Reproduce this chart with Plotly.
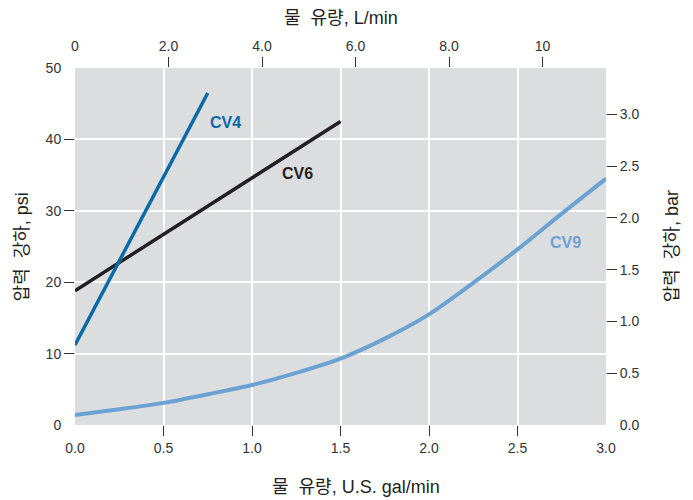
import plotly.graph_objects as go

# ---- data (gal/min vs psi) ----
cv4_x = [0.0, 0.75]
cv4_y = [11.2, 46.5]

cv6_x = [0.0, 1.5]
cv6_y = [18.8, 42.5]

cv9_x = [0.0, 0.25, 0.5, 0.75, 1.0, 1.25, 1.5, 1.75, 2.0, 2.25, 2.5, 2.75, 3.0]
cv9_y = [1.4, 2.2, 3.1, 4.3, 5.6, 7.3, 9.3, 12.1, 15.5, 19.9, 24.6, 29.6, 34.5]

bottom_ticks = [0.0, 0.5, 1.0, 1.5, 2.0, 2.5, 3.0]
bottom_labels = ["0.0", "0.5", "1.0", "1.5", "2.0", "2.5", "3.0"]
left_ticks = [0, 10, 20, 30, 40, 50]
left_labels = ["0", "10", "20", "30", "40", "50"]
top_ticks = [0, 2, 4, 6, 8, 10]
top_labels = ["0", "2.0", "4.0", "6.0", "8.0", "10"]
right_ticks = [0.0, 0.5, 1.0, 1.5, 2.0, 2.5, 3.0]
right_labels = ["0.0", "0.5", "1.0", "1.5", "2.0", "2.5", "3.0"]

GAL_TO_L = 3.78541
PSI_PER_BAR = 14.5038
X_MAX = 3.0
Y_MAX = 50.0

FONT = "Liberation Sans, Arial, Noto Sans CJK KR, sans-serif"
TXT = "#231f20"
C_CV4 = "#0a6aa8"
C_CV6 = "#231f20"
C_CV9 = "#6aa3d3"

fig = go.Figure()
fig.add_trace(go.Scatter(x=cv9_x, y=cv9_y, mode="lines", line=dict(color=C_CV9, width=4, shape="spline", smoothing=0.8), hoverinfo="skip"))
fig.add_trace(go.Scatter(x=cv6_x, y=cv6_y, mode="lines", line=dict(color=C_CV6, width=3.5), hoverinfo="skip"))
fig.add_trace(go.Scatter(x=cv4_x, y=cv4_y, mode="lines", line=dict(color=C_CV4, width=3.5), hoverinfo="skip"))

# dummy traces to bind auxiliary axes
for xa, ya in [("x2", "y2"), ("x3", "y3"), ("x4", "y4")]:
    fig.add_trace(go.Scatter(x=[None], y=[None], xaxis=xa, yaxis=ya, showlegend=False, hoverinfo="skip"))

tickfont = dict(family=FONT, size=14, color="#333333")
lbl_common = dict(showline=False, zeroline=False, showgrid=False, ticks="outside", ticklen=10,
                  tickcolor="rgba(0,0,0,0)", tickfont=tickfont, fixedrange=True)
mark_common = dict(showline=False, zeroline=False, showticklabels=False, ticks="outside", ticklen=10,
                   tickwidth=1.3, tickcolor="#333333", fixedrange=True)

fig.update_layout(
    width=693, height=500,
    margin=dict(l=75, r=87, t=68, b=75),
    paper_bgcolor="white", plot_bgcolor="#dcdddf",
    showlegend=False,
    font=dict(family=FONT, color=TXT),
    xaxis=dict(range=[0, X_MAX], tickvals=bottom_ticks, ticktext=bottom_labels, side="bottom", **lbl_common),
    yaxis=dict(range=[0, Y_MAX], tickvals=left_ticks, ticktext=left_labels, side="left", **lbl_common),
    xaxis2=dict(range=[0, X_MAX * GAL_TO_L], tickvals=top_ticks, ticktext=top_labels, side="top",
                overlaying="x", anchor="y", **lbl_common),
    yaxis2=dict(range=[0, Y_MAX / PSI_PER_BAR], tickvals=right_ticks, ticktext=right_labels, side="right",
                overlaying="y", anchor="x", **lbl_common),
    xaxis3=dict(range=[0, X_MAX], tickvals=bottom_ticks[1:-1], side="bottom", overlaying="x", anchor="y",
                showgrid=True, gridcolor="white", gridwidth=2, **mark_common),
    yaxis3=dict(range=[0, Y_MAX], tickvals=left_ticks[1:-1], side="left", overlaying="y", anchor="x",
                showgrid=True, gridcolor="white", gridwidth=2, **mark_common),
    xaxis4=dict(range=[0, X_MAX * GAL_TO_L], tickvals=top_ticks[1:], side="top", overlaying="x", anchor="y",
                showgrid=False, **mark_common),
    yaxis4=dict(range=[0, Y_MAX / PSI_PER_BAR], tickvals=right_ticks[1:], side="right", overlaying="y", anchor="x",
                showgrid=False, **mark_common),
)

title_font = dict(family=FONT, size=18, color=TXT)
fig.add_annotation(text="물  유량, U.S. gal/min", xref="paper", yref="paper", x=0.53, y=-0.174,
                   showarrow=False, font=title_font, xanchor="center", yanchor="middle")
fig.add_annotation(text="물  유량, L/min", xref="paper", yref="paper", x=0.5, y=1.14,
                   showarrow=False, font=title_font, xanchor="center", yanchor="middle")
fig.add_annotation(text="압력  강하, psi", xref="paper", yref="paper", x=-0.1, y=0.5, textangle=-90,
                   showarrow=False, font=title_font, xanchor="center", yanchor="middle")
fig.add_annotation(text="압력  강하, bar", xref="paper", yref="paper", x=1.124, y=0.5, textangle=-90,
                   showarrow=False, font=title_font, xanchor="center", yanchor="middle")

lab_font = dict(family=FONT, size=16)
fig.add_annotation(text="<b>CV4</b>", x=0.85, y=42.4, showarrow=False, font=dict(color=C_CV4, **lab_font))
fig.add_annotation(text="<b>CV6</b>", x=1.255, y=35.2, showarrow=False, font=dict(color=C_CV6, **lab_font))
fig.add_annotation(text="<b>CV9</b>", x=2.77, y=25.6, showarrow=False, font=dict(color=C_CV9, **lab_font))

fig.write_html("out.html", config={"displayModeBar": False},
               post_script="document.body.style.margin='0';document.body.style.overflow='hidden';")
